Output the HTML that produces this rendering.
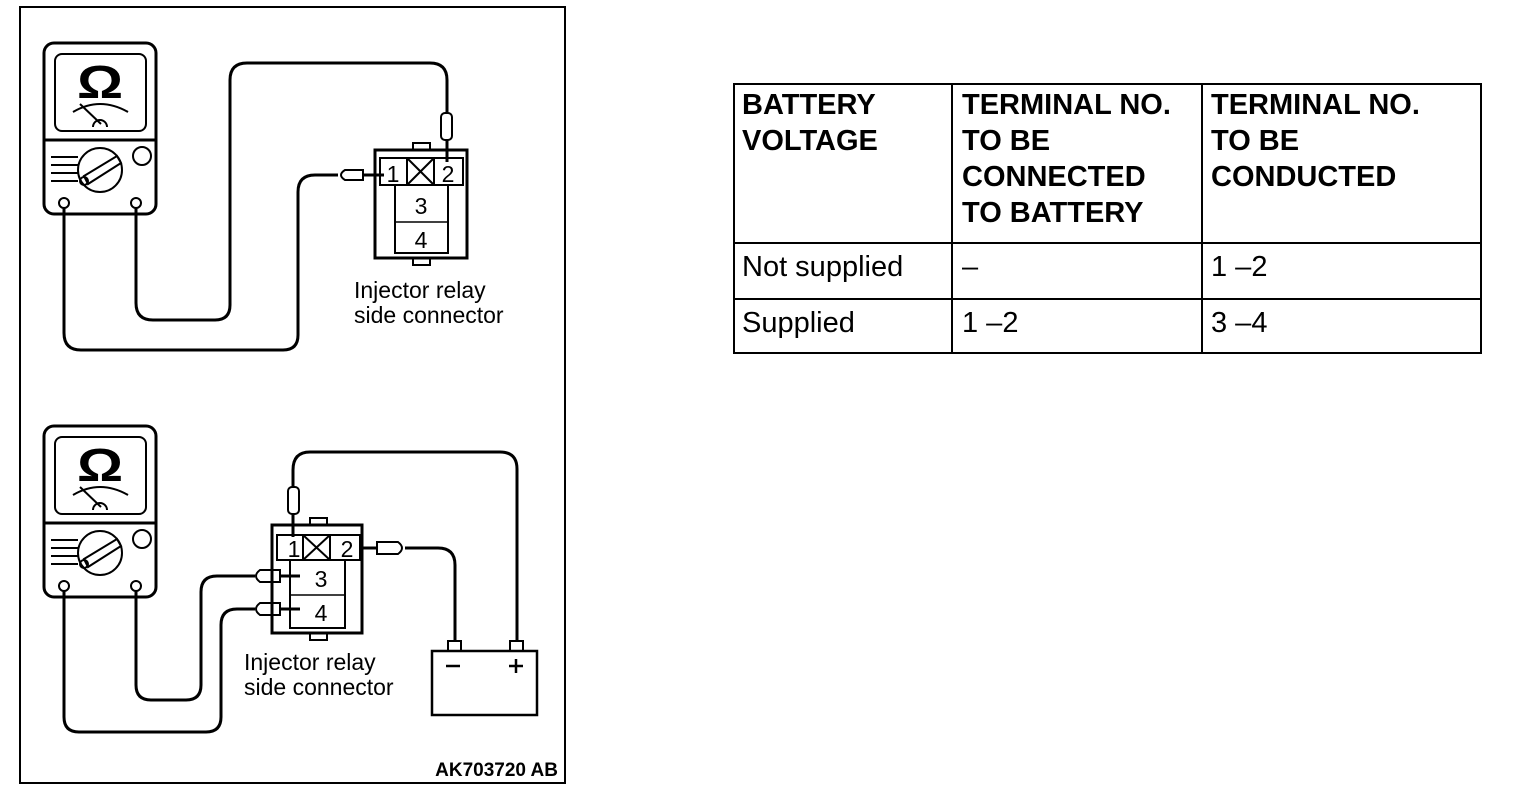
<!DOCTYPE html>
<html><head><style>
html,body{margin:0;padding:0;background:#fff;}
svg{display:block;}
text{font-family:"Liberation Sans",sans-serif;fill:#000;}
</style></head><body>
<svg width="1520" height="812" viewBox="0 0 1520 812" xmlns="http://www.w3.org/2000/svg">
<defs>
<g id="meter" fill="none" stroke="#000" stroke-width="3">
  <rect x="44" y="43" width="112" height="171" rx="10"/>
  <rect x="55" y="54" width="91" height="77" rx="7" stroke-width="2"/>
  <line x1="44" y1="140" x2="156" y2="140"/>
  <text x="100" y="98" font-size="46" font-weight="bold" text-anchor="middle" stroke="none" fill="#000" transform="translate(100,0) scale(1.25,1) translate(-100,0)">Ω</text>
  <path d="M73,112 Q100,96 128,112" stroke-width="2"/>
  <line x1="80" y1="104" x2="101" y2="124" stroke-width="2"/>
  <path d="M93,127 A7,7 0 0 1 107,127" stroke-width="2"/>
  <circle cx="100" cy="170" r="22" stroke-width="2"/>
  <path d="M84,176 L117,156 L121,163 L88,184 Z" stroke-width="2"/>
  <circle cx="84" cy="181" r="4" stroke-width="2"/>
  <line x1="51" y1="157" x2="78" y2="157" stroke-width="2"/>
  <line x1="51" y1="165" x2="78" y2="165" stroke-width="2"/>
  <line x1="51" y1="173" x2="78" y2="173" stroke-width="2"/>
  <line x1="51" y1="181" x2="78" y2="181" stroke-width="2"/>
  <circle cx="142" cy="156" r="9" stroke-width="2"/>
  <circle cx="64" cy="203" r="5" stroke-width="2"/>
  <circle cx="136" cy="203" r="5" stroke-width="2"/>
</g>
</defs>
<rect x="20" y="7" width="545" height="776" fill="none" stroke="#000" stroke-width="2"/>
<text x="558" y="776" font-size="19" font-weight="bold" text-anchor="end">AK703720 AB</text>

<!-- TOP -->
<use href="#meter"/>
<g fill="none" stroke="#000" stroke-width="3">
  <path d="M136,208 V303 Q136,320 153,320 H215 Q230,320 230,305 V80 Q230,63 247,63 H430 Q447,63 447,80 V113"/>
  <path d="M64,208 V333 Q64,350 81,350 H283 Q298,350 298,335 V192 Q298,175 315,175 H338"/>
  <rect x="441" y="113" width="11" height="27" rx="4" stroke-width="2"/>
  <line x1="447" y1="140" x2="447" y2="162"/>
  <path d="M363,170 H345 Q337,175 345,180 H363 Z" stroke-width="2"/>
  <line x1="363" y1="175" x2="384" y2="175"/>
  <rect x="375" y="150" width="92" height="108" stroke-width="3"/>
  <rect x="413" y="143" width="17" height="7" stroke-width="2"/>
  <rect x="413" y="258" width="17" height="7" stroke-width="2"/>
  <rect x="380" y="158" width="83" height="27" stroke-width="2"/>
  <line x1="407" y1="158" x2="407" y2="185" stroke-width="2"/>
  <line x1="434" y1="158" x2="434" y2="185" stroke-width="2"/>
  <line x1="407" y1="158" x2="434" y2="185" stroke-width="2"/>
  <line x1="434" y1="158" x2="407" y2="185" stroke-width="2"/>
  <rect x="395" y="185" width="53" height="68" stroke-width="2"/>
  <line x1="395" y1="222" x2="448" y2="222" stroke-width="1.5"/>
</g>
<text x="393" y="182" font-size="23" text-anchor="middle">1</text>
<text x="448" y="182" font-size="23" text-anchor="middle">2</text>
<text x="421" y="214" font-size="23" text-anchor="middle">3</text>
<text x="421" y="248" font-size="23" text-anchor="middle">4</text>
<text x="354" y="298" font-size="23">Injector relay</text>
<text x="354" y="323" font-size="23">side connector</text>

<!-- BOTTOM -->
<use href="#meter" transform="translate(0,383)"/>
<g fill="none" stroke="#000" stroke-width="3">
  <path d="M136,591 V685 Q136,700 151,700 H186 Q201,700 201,685 V592 Q201,576 217,576 H255"/>
  <path d="M64,591 V717 Q64,732 79,732 H206 Q221,732 221,717 V625 Q221,609 237,609 H255"/>
  <path d="M280,570 H260 Q252,576 260,582 H280 Z" stroke-width="2"/>
  <path d="M280,603 H260 Q252,609 260,615 H280 Z" stroke-width="2"/>
  <line x1="280" y1="576" x2="300" y2="576"/>
  <line x1="280" y1="609" x2="300" y2="609"/>
  <path d="M293,487 V470 Q293,452 310,452 H500 Q517,452 517,469 V641"/>
  <rect x="288" y="487" width="11" height="27" rx="4" stroke-width="2"/>
  <line x1="293" y1="514" x2="293" y2="537"/>
  <line x1="360" y1="548" x2="377" y2="548"/>
  <path d="M377,542 H398 Q406,548 398,554 H377 Z" stroke-width="2"/>
  <path d="M405,548 H438 Q455,548 455,565 V641"/>
  <rect x="272" y="525" width="90" height="108" stroke-width="3"/>
  <rect x="310" y="518" width="17" height="7" stroke-width="2"/>
  <rect x="310" y="633" width="17" height="7" stroke-width="2"/>
  <rect x="277" y="535" width="83" height="25" stroke-width="2"/>
  <line x1="303" y1="535" x2="303" y2="560" stroke-width="2"/>
  <line x1="330" y1="535" x2="330" y2="560" stroke-width="2"/>
  <line x1="303" y1="535" x2="330" y2="560" stroke-width="2"/>
  <line x1="330" y1="535" x2="303" y2="560" stroke-width="2"/>
  <rect x="290" y="560" width="55" height="68" stroke-width="2"/>
  <line x1="290" y1="595" x2="345" y2="595" stroke-width="1.5"/>
  <rect x="432" y="651" width="105" height="64" stroke-width="2.5"/>
  <rect x="448" y="641" width="13" height="10" stroke-width="2"/>
  <rect x="510" y="641" width="13" height="10" stroke-width="2"/>
  <line x1="446" y1="666" x2="460" y2="666" stroke-width="2.5"/>
  <line x1="509" y1="666" x2="523" y2="666" stroke-width="2.5"/>
  <line x1="516" y1="659" x2="516" y2="673" stroke-width="2.5"/>
</g>
<text x="294" y="557" font-size="23" text-anchor="middle">1</text>
<text x="347" y="557" font-size="23" text-anchor="middle">2</text>
<text x="321" y="587" font-size="23" text-anchor="middle">3</text>
<text x="321" y="621" font-size="23" text-anchor="middle">4</text>
<text x="244" y="670" font-size="23">Injector relay</text>
<text x="244" y="695" font-size="23">side connector</text>

<!-- TABLE -->
<g fill="none" stroke="#000" stroke-width="2">
  <rect x="734" y="84" width="747" height="269"/>
  <line x1="952" y1="84" x2="952" y2="353"/>
  <line x1="1202" y1="84" x2="1202" y2="353"/>
  <line x1="734" y1="243" x2="1481" y2="243"/>
  <line x1="734" y1="299" x2="1481" y2="299"/>
</g>
<g font-size="29" font-weight="bold">
  <text x="742" y="114">BATTERY</text>
  <text x="742" y="150">VOLTAGE</text>
  <text x="962" y="114">TERMINAL NO.</text>
  <text x="962" y="150">TO BE</text>
  <text x="962" y="186">CONNECTED</text>
  <text x="962" y="222">TO BATTERY</text>
  <text x="1211" y="114">TERMINAL NO.</text>
  <text x="1211" y="150">TO BE</text>
  <text x="1211" y="186">CONDUCTED</text>
</g>
<g font-size="29">
  <text x="742" y="276">Not supplied</text>
  <text x="962" y="276">–</text>
  <text x="1211" y="276">1 –2</text>
  <text x="742" y="332">Supplied</text>
  <text x="962" y="332">1 –2</text>
  <text x="1211" y="332">3 –4</text>
</g>
</svg>
</body></html>
